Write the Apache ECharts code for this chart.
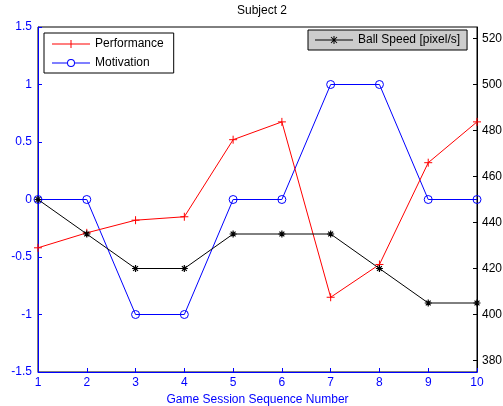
<!DOCTYPE html>
<html><head><meta charset="utf-8">
<script src="https://cdn.jsdelivr.net/npm/echarts@6/dist/echarts.min.js"></script>
<style>html,body{margin:0;padding:0;background:#fff}#c{width:503px;height:406px}</style>
</head><body><div id="c"></div>
<script>
const sessions = [1,2,3,4,5,6,7,8,9,10];
const performance = [-0.42,-0.29,-0.18,-0.15,0.52,0.675,-0.85,-0.565,0.32,0.675];
const motivation = [0,0,-1,-1,0,0,1,1,0,0];
const ballSpeed = [450,435,420,420,435,435,435,420,405,405];
const rightTicks = [380,400,420,440,460,480,500,520];

const plusPath = 'path://M5,0L5,10M0,5L10,5';
const starPath = 'path://M5,0L5,10M0,5L10,5M1.5,1.5L8.5,8.5M8.5,1.5L1.5,8.5';
const circlePath = 'path://M10,5A5,5,0,1,1,0,5A5,5,0,1,1,10,5Z';
// legend icons as filled shapes (line + marker), 38 x 8
const legPlus = 'path://M0,3.5L38,3.5L38,4.5L0,4.5Z M18.5,0L19.5,0L19.5,8L18.5,8Z';
const legCircle = 'path://M0,3.5L15,3.5L15,4.5L0,4.5Z M23,3.5L38,3.5L38,4.5L23,4.5Z M23,4A4,4,0,1,1,15,4A4,4,0,1,1,23,4Z M22,4A3,3,0,1,0,16,4A3,3,0,1,0,22,4Z';
const legStar = 'path://M0,3.5L38,3.5L38,4.5L0,4.5Z M18.5,0L19.5,0L19.5,8L18.5,8Z M16.35,0.65L22.35,6.65L21.65,7.35L15.65,1.35Z M21.65,0.65L22.35,1.35L16.35,7.35L15.65,6.65Z';
const FONT = 'Liberation Sans, Arial, sans-serif';

function legendItem(name, c, icon){
  return {name:name, icon:icon, itemStyle:{color:c, borderWidth:0, opacity:1}};
}

const chart = echarts.init(document.getElementById('c'), null, {renderer:'canvas'});
chart.setOption({
  animation:false,
  backgroundColor:'#fff',
  textStyle:{fontFamily:FONT},
  title:{text:'Subject 2', left:257, textAlign:'center', top:0,
    textStyle:{fontSize:12, fontWeight:'normal', color:'#000', fontFamily:FONT}},
  grid:{left:38, right:26, top:27, bottom:34, outerBoundsMode:'none', containLabel:false,
    show:true, borderColor:'#000', borderWidth:1, backgroundColor:'transparent'},
  legend:[{
    data:[legendItem('Performance','#ff0000',legPlus), legendItem('Motivation','#0000ff',legCircle)],
    orient:'vertical', left:44, top:33,
    backgroundColor:'#fff', borderColor:'#000', borderWidth:1, borderRadius:0,
    padding:[5,10,4,8], itemGap:7, itemWidth:38, itemHeight:8,
    textStyle:{fontSize:12, color:'#000', fontFamily:FONT}
  },{
    data:[legendItem('Ball Speed [pixel/s]','#000000',legStar)],
    orient:'vertical', left:308, top:30,
    backgroundColor:'#cccccc', borderColor:'#000', borderWidth:1, borderRadius:0,
    padding:[4,7,4,7], itemWidth:38, itemHeight:8,
    textStyle:{fontSize:12, color:'#000', fontFamily:FONT}
  }],
  xAxis:{type:'value', min:1, max:10, interval:1,
    name:'Game Session Sequence Number', nameLocation:'middle', nameGap:20,
    nameTextStyle:{color:'#0000ff', fontSize:12, fontFamily:FONT},
    axisLine:{onZero:false, lineStyle:{color:'#0000ff', width:1}},
    axisTick:{inside:true, length:4, lineStyle:{color:'#0000ff'}},
    axisLabel:{color:'#0000ff', fontSize:12, margin:5, fontFamily:FONT},
    splitLine:{show:false}},
  yAxis:[{type:'value', min:-1.5, max:1.5, interval:0.5,
    axisLine:{show:true, onZero:false, lineStyle:{color:'#0000ff', width:1}},
    axisTick:{show:true, inside:true, length:4, lineStyle:{color:'#0000ff'}},
    axisLabel:{color:'#0000ff', fontSize:12, margin:6, fontFamily:FONT},
    splitLine:{show:false}},
   {type:'value', min:375, max:525, position:'right',
    axisLine:{show:true, onZero:false, lineStyle:{color:'#000', width:1}},
    axisTick:{show:true, inside:true, length:4, lineStyle:{color:'#000'}, customValues:rightTicks},
    axisLabel:{color:'#000', fontSize:12, margin:5, fontFamily:FONT, customValues:rightTicks},
    splitLine:{show:false}}],
  series:[
    {name:'Performance', type:'line', yAxisIndex:0, color:'#ff0000', data:sessions.map((x,i)=>[x,performance[i]]),
      symbol:plusPath, symbolSize:8, showSymbol:true,
      lineStyle:{color:'#ff0000', width:1}, itemStyle:{color:'none', borderColor:'#ff0000', borderWidth:1}, z:3},
    {name:'Motivation', type:'line', yAxisIndex:0, color:'#0000ff', data:sessions.map((x,i)=>[x,motivation[i]]),
      symbol:circlePath, symbolSize:8, showSymbol:true,
      lineStyle:{color:'#0000ff', width:1}, itemStyle:{color:'none', borderColor:'#0000ff', borderWidth:1}, z:2},
    {name:'Ball Speed [pixel/s]', type:'line', yAxisIndex:1, color:'#000000', data:sessions.map((x,i)=>[x,ballSpeed[i]]),
      symbol:starPath, symbolSize:7, showSymbol:true,
      lineStyle:{color:'#000', width:1}, itemStyle:{color:'none', borderColor:'#000', borderWidth:1.2}, z:4}
  ]
});
</script></body></html>
